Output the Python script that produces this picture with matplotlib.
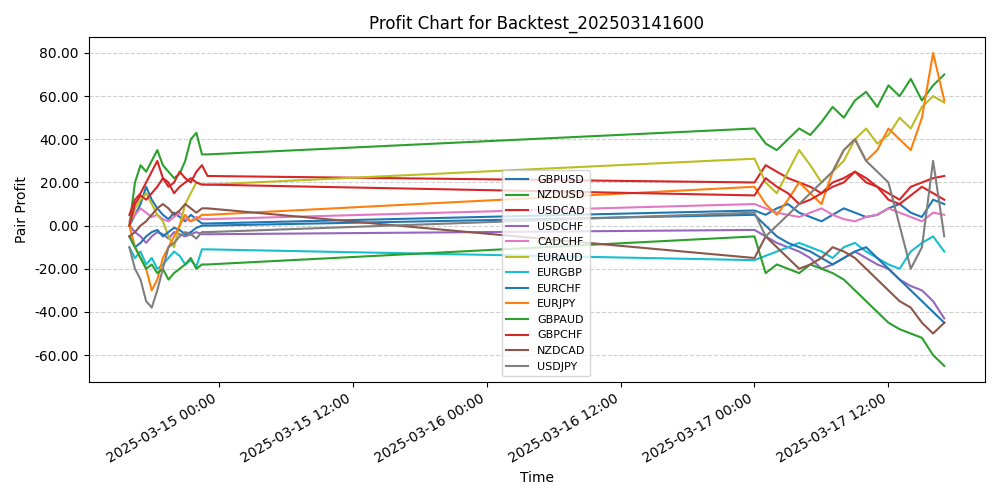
import numpy as np
import pandas as pd
import matplotlib
matplotlib.use("Agg")
import matplotlib.pyplot as plt
import matplotlib.dates as mdates
from matplotlib.ticker import FormatStrFormatter

# Two trading sessions: Friday evening and Monday
times = list(pd.date_range('2025-03-14 16:00', '2025-03-14 23:00', freq='30min')) + \
        list(pd.date_range('2025-03-17 00:00', '2025-03-17 17:00', freq='1h'))

pairs = ['GBPUSD', 'NZDUSD', 'USDCAD', 'USDCHF', 'CADCHF', 'EURAUD', 'EURGBP',
         'EURCHF', 'EURJPY', 'GBPAUD', 'GBPCHF', 'NZDCAD', 'USDJPY']
colors = ['#1f77b4', '#2ca02c', '#d62728', '#9467bd', '#e377c2', '#bcbd22', '#17becf',
          '#1f77b4', '#ff7f0e', '#2ca02c', '#d62728', '#8c564b', '#7f7f7f']

gbpusd = [0, 5, 10, 18, 12, 8, 5, 3, 6, 4, 2, 5, 3, 1, 1,
          7, 5, 8, 10, 6, 4, 2, 5, 8, 6, 4, 5, 8, 10, 6, 4, 12, 10]
nzdusd = [0, 20, 28, 25, 30, 35, 28, 25, 22, 24, 30, 40, 43, 33, 33,
          45, 38, 35, 40, 45, 42, 48, 55, 50, 58, 62, 55, 65, 60, 68, 58, 65, 70]
usdcad = [5, 12, 15, 20, 25, 30, 22, 18, 20, 25, 22, 20, 25, 28, 23,
          20, 28, 25, 22, 20, 18, 15, 20, 22, 25, 20, 18, 15, 12, 18, 20, 22, 23]
usdchf = [0, -3, -5, -8, -5, -3, -4, -6, -3, -4, -5, -4, -3, -4, -4,
          -2, -5, -8, -10, -12, -15, -20, -18, -15, -12, -15, -18, -20, -25, -28, -30, -35, -43]
cadchf = [2, 5, 8, 6, 4, 5, 3, 2, 4, 6, 3, 2, 4, 3, 3,
          10, 8, 6, 5, 4, 6, 8, 5, 3, 2, 4, 5, 8, 6, 4, 2, 6, 5]
euraud = [0, 8, 12, 15, 10, 5, 2, -5, -10, 0, 10, 15, 20, 19, 19,
          31, 20, 15, 25, 35, 28, 20, 25, 30, 40, 45, 38, 42, 50, 45, 55, 60, 57]
eurgbp = [-10, -15, -12, -18, -15, -20, -18, -15, -12, -14, -18, -16, -19, -11, -11,
          -16, -14, -12, -10, -8, -10, -12, -15, -10, -8, -12, -15, -18, -20, -12, -8, -5, -12]
eurchf = [-5, -10, -8, -5, -3, -2, -5, -3, -1, -2, -4, -3, -1, 0, 0,
          5, 0, -5, -8, -10, -12, -15, -18, -15, -12, -10, -15, -20, -25, -30, -35, -40, -45]
eurjpy = [0, -10, -15, -20, -30, -25, -15, -10, -5, 0, 5, 2, 3, 5, 5,
          18, 10, 5, 12, 20, 15, 10, 25, 35, 40, 30, 35, 45, 40, 35, 50, 80, 58]
gbpaud = [-5, -10, -15, -20, -18, -22, -20, -25, -22, -20, -18, -15, -20, -18, -18,
          -5, -22, -18, -20, -22, -18, -20, -22, -25, -30, -35, -40, -45, -48, -50, -52, -60, -65]
gbpchf = [0, 10, 14, 12, 15, 18, 22, 20, 15, 18, 20, 22, 20, 19, 19,
          14, 22, 18, 15, 10, 12, 15, 18, 20, 25, 22, 18, 12, 10, 14, 18, 15, 12]
nzdcad = [-5, -3, 0, 2, 5, 8, 10, 8, 5, 7, 10, 8, 6, 8, 8,
          -15, -5, -10, -15, -20, -18, -15, -10, -12, -15, -20, -25, -30, -35, -38, -45, -50, -45]
usdjpy = [-10, -20, -25, -35, -38, -30, -20, -10, -8, -5, -3, -4, -6, -3, -3,
          6, -5, 0, 5, 10, 15, 20, 25, 35, 40, 30, 25, 20, 0, -20, -10, 30, -5]

series = [gbpusd, nzdusd, usdcad, usdchf, cadchf, euraud, eurgbp,
          eurchf, eurjpy, gbpaud, gbpchf, nzdcad, usdjpy]

fig, ax = plt.subplots(figsize=(10, 5), dpi=100)
for name, vals, c in zip(pairs, series, colors):
    ax.plot(times, vals, label=name, color=c, linewidth=1.5)

ax.set_title('Profit Chart for Backtest_202503141600')
ax.set_xlabel('Time')
ax.set_ylabel('Pair Profit')
ax.yaxis.set_major_formatter(FormatStrFormatter('%.2f'))
ax.xaxis.set_major_locator(mdates.HourLocator(byhour=[0, 12]))
ax.xaxis.set_major_formatter(mdates.DateFormatter('%Y-%m-%d %H:%M'))
ax.grid(True, axis='y', linestyle='--', alpha=0.6)
ax.legend(loc='lower center', bbox_to_anchor=(0.51, 0.0), fontsize=8)
fig.autofmt_xdate()
fig.tight_layout()
fig.savefig('out.png')
